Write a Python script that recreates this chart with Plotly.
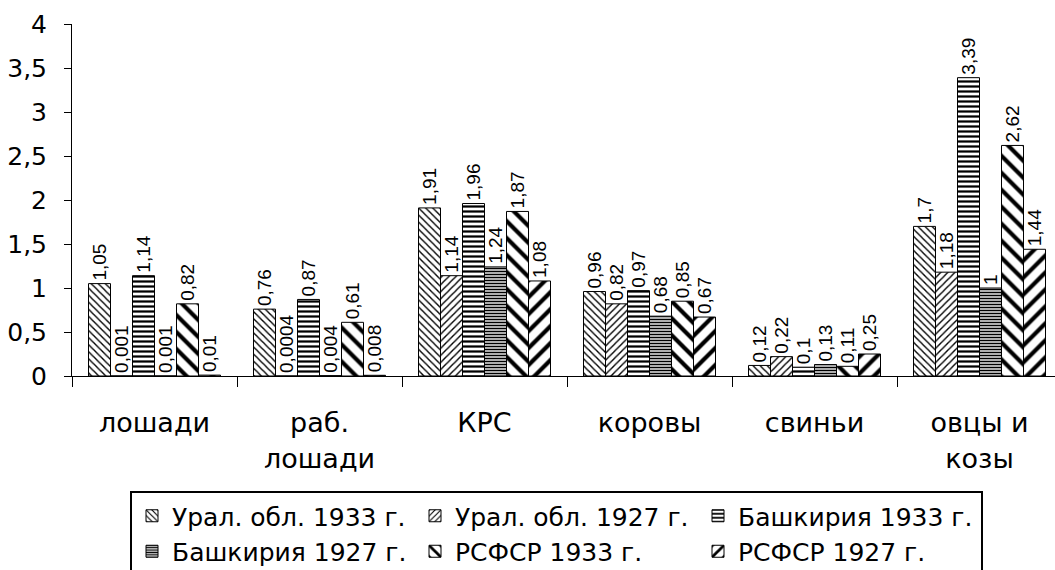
import plotly.graph_objects as go

categories = ["лошади", "раб.<br>лошади", "КРС", "коровы", "свиньи", "овцы и<br>козы"]
series_names = ["Урал. обл. 1933 г.", "Урал. обл. 1927 г.", "Башкирия 1933 г.",
                "Башкирия 1927 г.", "РСФСР 1933 г.", "РСФСР 1927 г."]
ural_1933 = [1.05, 0.76, 1.91, 0.96, 0.12, 1.7]
ural_1927 = [0.001, 0.0004, 1.14, 0.82, 0.22, 1.18]
bash_1933 = [1.14, 0.87, 1.96, 0.97, 0.1, 3.39]
bash_1927 = [0.001, 0.004, 1.24, 0.68, 0.13, 1]
rsfsr_1933 = [0.82, 0.61, 1.87, 0.85, 0.11, 2.62]
rsfsr_1927 = [0.01, 0.008, 1.08, 0.67, 0.25, 1.44]
y_ticks = [0, 0.5, 1, 1.5, 2, 2.5, 3, 3.5, 4]

series_values = [ural_1933, ural_1927, bash_1933, bash_1927, rsfsr_1933, rsfsr_1927]
patterns = [
    dict(shape="\\", size=5, solidity=0.28),
    dict(shape="/", size=5, solidity=0.28),
    dict(shape="-", size=5, solidity=0.45),
    dict(shape="-", size=3, solidity=0.55),
    dict(shape="\\", size=12, solidity=0.35),
    dict(shape="/", size=12, solidity=0.35),
]

def fmt(v):
    return f"{v:g}".replace(".", ",")

fig = go.Figure()
for name, vals, pat in zip(series_names, series_values, patterns):
    fig.add_trace(go.Bar(
        x=categories, y=vals, name=name,
        text=[fmt(v) for v in vals],
        textposition="outside", textangle=-90, constraintext="none",
        cliponaxis=False,
        outsidetextfont=dict(family="Liberation Sans, Arial", size=19, color="black"),
        marker=dict(color="white", line=dict(color="black", width=1),
                    pattern=dict(fgcolor="black", bgcolor="white", fillmode="replace", **pat)),
    ))

fig.update_layout(
    width=1055, height=570,
    margin=dict(l=72, r=0, t=24, b=194),
    paper_bgcolor="white", plot_bgcolor="white",
    barmode="group", bargap=0.2, bargroupgap=0,
    separators=", ",
    font=dict(family="DejaVu Sans", color="black", size=25),
    showlegend=True,
    legend=dict(
        orientation="h", xref="container", yref="container",
        x=130 / 1055, xanchor="left", y=1 - 491 / 570, yanchor="top",
        bordercolor="black", borderwidth=2, bgcolor="white",
        font=dict(family="DejaVu Sans", size=25, color="black"),
        itemwidth=30, entrywidth=238, entrywidthmode="pixels",
        traceorder="normal", tracegroupgap=0,
    ),
)
fig.update_xaxes(
    range=[-0.5, 5.5 - 7 / 165],
    showline=True, linecolor="black", linewidth=1,
    ticks="outside", tickson="boundaries", ticklen=10, tickcolor="black",
    tickfont=dict(family="DejaVu Sans", size=27, color="black"),
    ticklabelstandoff=23,
    showgrid=False, zeroline=False,
)
fig.update_yaxes(
    range=[0, 4], tickvals=y_ticks,
    showline=True, linecolor="black", linewidth=1,
    ticks="outside", ticklen=7, tickcolor="black",
    tickfont=dict(family="DejaVu Sans", size=25, color="black"),
    ticklabelstandoff=12,
    showgrid=False, zeroline=False,
)

fig.write_html("out.html", config={"displayModeBar": False},
               post_script="document.body.style.margin='0';")
